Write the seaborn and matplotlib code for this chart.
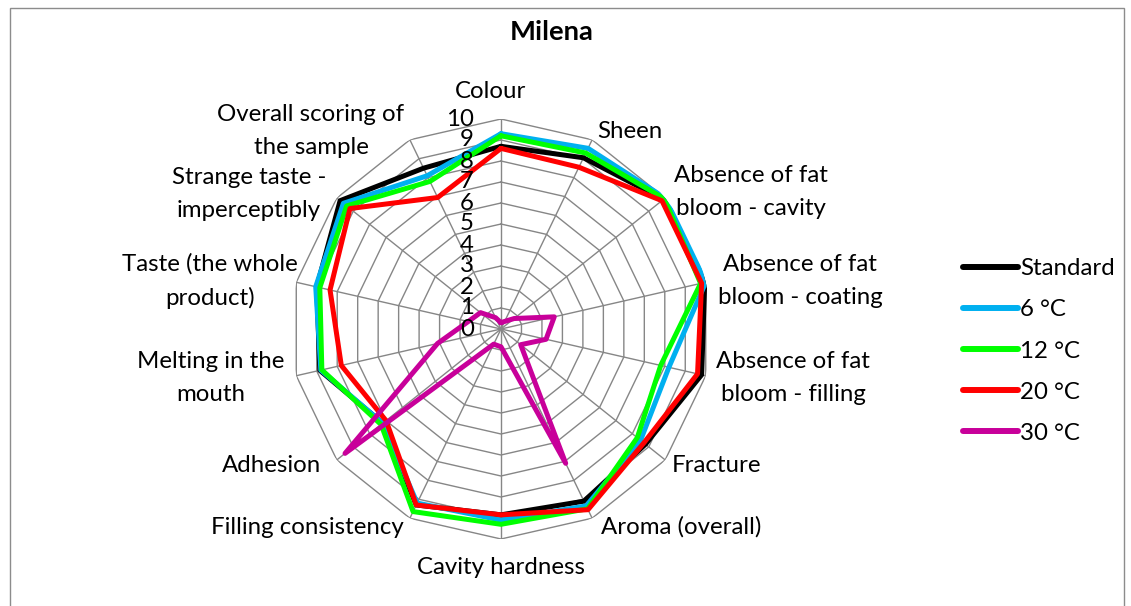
import numpy as np
import pandas as pd
import matplotlib
matplotlib.use("Agg")
import matplotlib.pyplot as plt
import seaborn as sns
from matplotlib.lines import Line2D
from matplotlib.patches import Rectangle
from matplotlib.transforms import offset_copy

# ---------------- data ----------------
title = "Milena"
categories = [
    "Colour", "Sheen", "Absence of fat\nbloom - cavity", "Absence of fat\nbloom - coating",
    "Absence of fat\nbloom - filling", "Fracture", "Aroma (overall)", "Cavity hardness",
    "Filling consistency", "Adhesion", "Melting in the\nmouth", "Taste (the whole\nproduct)",
    "Strange taste -\nimperceptibly", "Overall scoring of\nthe sample",
]
series_names = ["Standard", "6 °C", "12 °C", "20 °C", "30 °C"]
standard = [8.7, 9.05, 9.9, 9.95, 9.8, 8.8, 9.1, 8.85, 9.3, 7.2, 8.85, 9.0, 9.8, 8.5]
t6 = [9.3, 9.55, 10.0, 10.0, 8.2, 8.5, 9.35, 9.1, 9.2, 7.2, 8.8, 9.05, 9.6, 8.1]
t12 = [9.2, 9.3, 9.95, 9.75, 7.8, 8.3, 9.5, 9.3, 9.65, 7.3, 8.75, 8.85, 9.4, 7.8]
t20 = [8.6, 8.55, 9.8, 9.8, 9.6, 8.7, 9.55, 8.85, 9.3, 7.0, 7.8, 8.35, 9.2, 6.95]
t30 = [0.3, 0.4, 0.8, 2.6, 2.2, 1.2, 7.1, 0.85, 0.8, 9.5, 3.1, 1.6, 1.25, 0.6]
tick_values = list(range(0, 11))

colors = ["#000000", "#00B0F0", "#00FF00", "#FF0000", "#C8009A"]
grid_color = "#868686"

# ---------------- layout (pixels) ----------------
W, H = 1131, 606
cx, cy, R = 501, 329, 210
label_pos = [(491, 92), (630, 131), (751, 192), (800, 281), (793, 378), (717, 466),
             (681, 527), (501, 567), (307, 527), (272, 466), (211, 378), (210, 281),
             (249, 194), (311, 131)]

sns.set_theme(style="white")
plt.rcParams["font.family"] = ["Lato", "DejaVu Sans"]
plt.rcParams["text.color"] = "black"

fig = plt.figure(figsize=(W / 100, H / 100), dpi=100)
fig.patch.set_facecolor("white")
renderer = fig.canvas.get_renderer()


def fit_size(text, target_px, weight="normal"):
    t = fig.text(0, 0, text, fontsize=10, weight=weight)
    w = t.get_window_extent(renderer).width
    t.remove()
    return 10 * target_px / w


fs = fit_size("Cavity hardness", 168)
fs_title = fit_size("Milena", 84, weight="bold")
fs_px = fs * 100 / 72

# border
fig.add_artist(Rectangle((10 / W, -0.1), (1124 - 10) / W, (H - 8) / H + 0.1,
                         transform=fig.transFigure, fill=False, ec="#8c8c8c", lw=1))

ax = fig.add_axes([(cx - R) / W, (H - cy - R) / H, 2 * R / W, 2 * R / H], projection="polar")
ax.set_theta_zero_location("N")
ax.set_theta_direction(-1)
ax.set_ylim(0, 10)
ax.axis("off")

n = len(categories)
theta = np.arange(n) * 2 * np.pi / n
closed = np.append(theta, 2 * np.pi)

for lev in tick_values[1:]:
    ax.plot(closed, [lev] * (n + 1), color=grid_color, lw=1.0, zorder=1)
for t in theta:
    ax.plot([t, t], [0, 10], color=grid_color, lw=1.0, zorder=1)

rows = []
for name, vals in zip(series_names, [standard, t6, t12, t20, t30]):
    for i in range(n + 1):
        rows.append({"series": name, "theta": closed[i], "value": vals[i % n]})
df = pd.DataFrame(rows)

sns.lineplot(data=df, x="theta", y="value", hue="series", hue_order=series_names,
             palette=colors, sort=False, estimator=None, lw=3.6, ax=ax, legend=False,
             zorder=3)
ax.set_ylim(0, 10)
ax.axis("off")

# radial tick labels
tr = offset_copy(ax.transData, fig=fig, x=-27, y=0, units="dots")
for v in tick_values:
    ax.text(0, v, str(v), transform=tr, ha="right", va="center", fontsize=fs, zorder=4,
            color="black")

# category labels
for lab, (x, y) in zip(categories, label_pos):
    fig.text(x / W, 1 - y / H, lab, ha="center", va="center", multialignment="center",
             fontsize=fs, linespacing=1.7, color="black")

fig.text(552 / W, 1 - 32 / H, title, ha="center", va="center", fontsize=fs_title,
         weight="bold", color="black")

handles = [Line2D([], [], color=c, lw=4.3, solid_capstyle="round") for c in colors]
leg = fig.legend(handles, series_names, loc="center left",
                 bbox_to_anchor=(963 / W, 1 - 351 / H), frameon=False, fontsize=fs,
                 handlelength=55 / fs_px, handletextpad=2 / fs_px,
                 labelspacing=(40 - fs_px * 1.17) / fs_px + 0.34, borderpad=0,
                 borderaxespad=0)
for txt in leg.get_texts():
    txt.set_color("black")

fig.savefig("out.png", dpi=100, facecolor="white")
